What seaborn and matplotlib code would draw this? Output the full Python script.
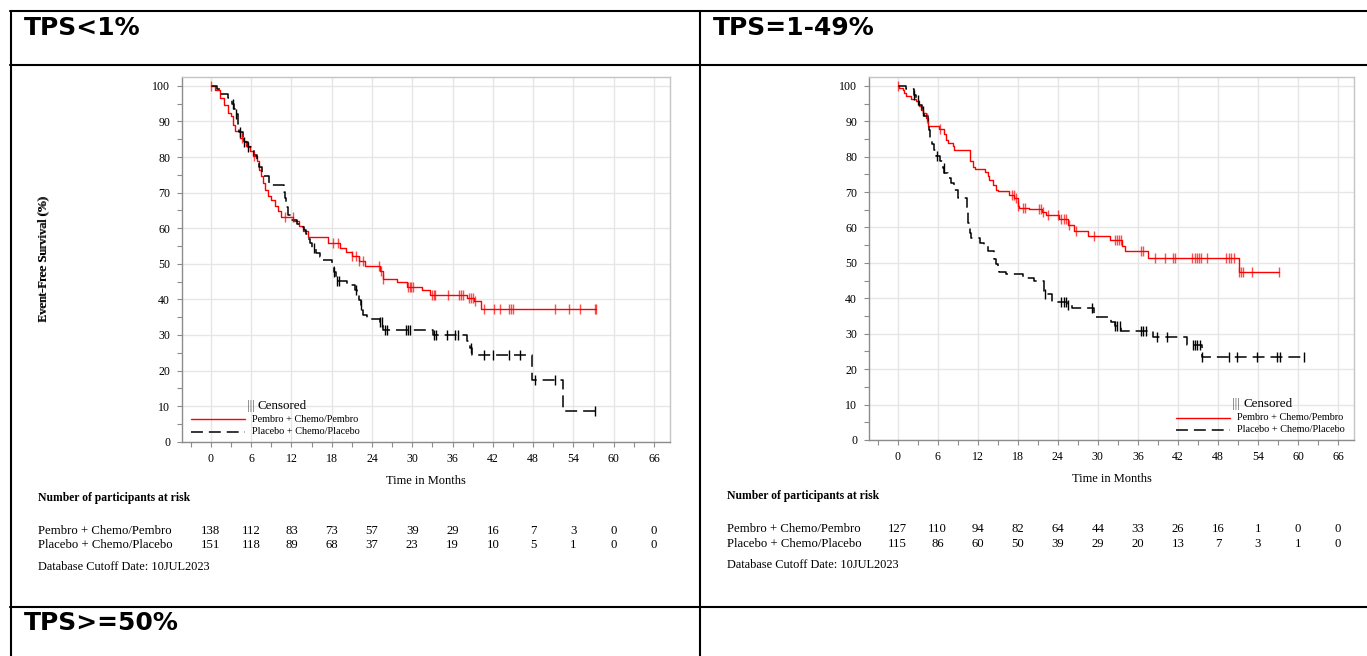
import numpy as np
import pandas as pd
import matplotlib
matplotlib.use("Agg")
import matplotlib.pyplot as plt
from matplotlib.lines import Line2D
from matplotlib.ticker import MultipleLocator
from matplotlib.transforms import blended_transform_factory
import seaborn as sns

# ----------------------------- data -----------------------------
panel_titles = ["TPS<1%", "TPS=1-49%", "TPS>=50%"]
arm_labels = ["Pembro + Chemo/Pembro", "Placebo + Chemo/Placebo"]
month_ticks = [0, 6, 12, 18, 24, 30, 36, 42, 48, 54, 60, 66]
surv_ticks = [0, 10, 20, 30, 40, 50, 60, 70, 80, 90, 100]
x_label = "Time in Months"
y_label = "Event-Free Survival (%)"
risk_header = "Number of participants at risk"
cutoff_note = "Database Cutoff Date: 10JUL2023"
censor_label = "Censored"

# ---- TPS<1% ----
low_pem_time = [0, 0.6, 1.3, 1.9, 2.5, 3.0, 3.3, 3.6, 4.3, 4.8,
                5.3, 5.8, 6.3, 6.8, 7.2, 7.5, 7.8, 8.1, 8.5, 9.0,
                9.6, 10.0, 10.5, 12.3, 13.1, 13.8, 14.4, 17.4, 19.2, 20.1,
                21.1, 22.0, 22.9, 25.2, 25.7, 27.7, 29.2, 31.5, 32.7, 38.2,
                39.2, 40.2]
low_pem_surv = [100, 98.9, 96.5, 94.7, 92.3, 91.4, 89.0, 87.2, 85.3, 84.4,
                83.0, 81.6, 80.2, 78.8, 76.4, 74.6, 72.7, 70.8, 69.0, 67.9,
                66.2, 64.8, 63.2, 62.0, 60.5, 59.2, 57.6, 55.9, 54.5, 53.4,
                52.1, 50.7, 49.3, 47.9, 45.6, 44.8, 43.5, 42.5, 41.2, 40.4,
                39.5, 37.3]
low_pem_cens = [0, 4.6, 6.5, 11.0, 12.2, 18.2, 18.9, 21.1, 21.6, 22.1, 22.6,
                25.0, 25.4, 25.7, 29.3, 29.6, 29.8, 30.1, 33.0, 33.2, 33.4,
                35.3, 36.9, 37.2, 37.5, 38.4, 38.7, 39.0, 39.3, 40.7, 42.2,
                43.0, 44.4, 44.7, 45.0, 51.2, 53.3, 55.0, 57.2, 57.4]

low_plc_time = [0, 0.9, 1.4, 2.5, 3.2, 3.5, 3.8, 4.0, 4.2, 4.75,
                5.0, 5.5, 6.0, 6.4, 6.8, 7.1, 7.6, 8.6, 10.9, 11.05,
                11.2, 11.45, 11.9, 12.9, 13.3, 13.9, 14.2, 14.5, 14.7, 15.1,
                15.7, 16.3, 16.6, 18.0, 18.3, 18.6, 18.8, 20.3, 21.4, 21.7,
                22.0, 22.3, 22.5, 22.7, 23.2, 25.2, 25.7, 33.1, 38.1, 38.6,
                38.9, 47.8, 52.5]
low_plc_surv = [100, 99.1, 97.8, 96.6, 95.0, 93.6, 92.2, 89.4, 87.1, 85.7,
                84.3, 82.9, 81.9, 80.5, 79.1, 77.2, 74.8, 72.1, 70.2, 68.4,
                66.0, 63.7, 62.3, 61.1, 60.2, 59.6, 58.5, 57.1, 55.7, 54.3,
                52.9, 51.8, 51.0, 49.2, 47.8, 46.3, 45.1, 44.0, 42.6, 41.2,
                39.8, 38.4, 37.0, 35.6, 34.5, 33.5, 31.5, 30.0, 28.2, 26.4,
                24.3, 17.3, 8.6]
low_plc_cens = [3.3, 3.8, 4.4, 5.0, 5.5, 15.4, 18.3, 18.8, 19.1, 21.6, 22.3,
                25.2, 25.5, 25.9, 26.2, 29.1, 29.4, 29.7, 33.2, 33.5, 35.2,
                36.4, 36.8, 38.8, 40.7, 42.0, 44.4, 46.0, 48.3, 51.2, 57.2]

low_pem_risk = [138, 112, 83, 73, 57, 39, 29, 16, 7, 3, 0, 0]
low_plc_risk = [151, 118, 89, 68, 37, 23, 19, 10, 5, 1, 0, 0]

# ---- TPS=1-49% ----
mid_pem_time = [0, 0.25, 0.75, 1.0, 1.25, 2.0, 2.75, 3.25, 3.5, 3.75,
                4.25, 4.5, 6.25, 7.0, 7.25, 7.5, 8.25, 8.5, 10.9, 11.25,
                11.6, 13.15, 13.5, 13.75, 14.25, 14.75, 15.0, 16.65, 17.5, 18.0,
                18.25, 19.65, 21.65, 22.25, 24.15, 25.6, 26.5, 28.6, 31.8, 33.6,
                34.0, 37.5, 51.2]
mid_pem_surv = [100, 99.3, 98.9, 98.1, 97.2, 96.2, 95.6, 94.2, 93.2, 92.3,
                90.9, 88.7, 87.8, 86.5, 84.8, 83.9, 82.9, 81.8, 78.7, 77.1,
                76.5, 75.6, 74.5, 73.5, 72.1, 70.7, 70.3, 69.3, 68.4, 66.0,
                65.6, 65.1, 64.4, 63.4, 62.3, 60.6, 59.0, 57.7, 56.4, 54.9,
                53.3, 51.4, 47.5]
mid_pem_cens = [0, 4.4, 6.3, 17.1, 17.4, 17.8, 18.1, 18.8, 19.1, 21.2, 21.5,
                21.8, 22.6, 24.0, 24.5, 24.9, 25.3, 25.7, 26.8, 29.4, 32.5,
                32.8, 33.1, 33.4, 36.5, 36.8, 38.6, 40.0, 41.2, 41.5, 44.1,
                44.6, 44.9, 45.1, 45.4, 46.3, 49.2, 49.6, 50.0, 50.4, 51.2,
                51.5, 51.8, 53.1, 57.1]

mid_plc_time = [0, 1.3, 2.4, 2.8, 3.2, 3.6, 4.0, 4.5, 4.7, 4.9,
                5.2, 5.5, 5.8, 6.3, 6.8, 7.0, 7.5, 8.0, 8.5, 9.0,
                10.4, 10.6, 10.8, 11.0, 12.3, 13.0, 13.5, 14.5, 14.75, 15.0,
                15.25, 16.2, 18.8, 20.5, 22.0, 23.1, 25.4, 26.2, 29.4, 32.0,
                32.6, 33.4, 38.3, 43.4, 45.6]
mid_plc_surv = [100, 99.1, 97.5, 96.1, 94.5, 93.0, 91.5, 90.0, 87.5, 85.3,
                83.5, 82.0, 80.1, 78.7, 76.8, 75.4, 74.0, 72.6, 70.5, 68.4,
                65.0, 61.4, 58.5, 56.9, 55.5, 54.8, 53.4, 51.0, 49.6, 48.2,
                47.5, 46.8, 45.6, 44.9, 41.2, 39.0, 38.1, 37.2, 34.8, 33.4,
                32.1, 30.8, 29.2, 26.8, 23.3]
mid_plc_cens = [2.5, 3.0, 3.8, 5.9, 6.9, 22.1, 24.5, 25.0, 25.3, 25.6, 29.2,
                32.6, 32.9, 33.3, 36.5, 36.8, 37.2, 38.8, 40.4, 44.3, 44.6,
                44.9, 45.3, 45.6, 49.7, 50.9, 53.9, 56.8, 57.3, 60.9]

mid_pem_risk = [127, 110, 94, 82, 64, 44, 33, 26, 16, 1, 0, 0]
mid_plc_risk = [115, 86, 60, 50, 39, 29, 20, 13, 7, 3, 1, 0]

# ----------------------------- style -----------------------------
W, H = 1367, 656
sns.set_theme(style="white")
plt.rcParams["font.family"] = ["Liberation Serif", "DejaVu Serif"]
plt.rcParams["axes.unicode_minus"] = False
plt.rcParams["text.color"] = "black"
plt.rcParams["axes.labelcolor"] = "black"
plt.rcParams["xtick.color"] = "black"
plt.rcParams["ytick.color"] = "black"
plt.rcParams["axes.labelweight"] = "normal"

PEM_COLOR = "#ff0000"
PLC_COLOR = "#000000"
PLC_DASH = (7.8, 3.9)
SERIF = ["Liberation Serif", "DejaVu Serif"]

fig = plt.figure(figsize=(W / 100, H / 100), dpi=100)
fig.patch.set_facecolor("white")


def fx(px):
    return px / W


def fy(py):
    return 1 - py / H


def step_frame(times, surv, cens, arm):
    end = max(max(cens), times[-1])
    return pd.DataFrame({"month": list(times) + [end],
                         "surv": list(surv) + [surv[-1]],
                         "arm": arm})


def surv_at(times, surv, x):
    idx = np.searchsorted(np.asarray(times), np.asarray(x), side="right") - 1
    return np.asarray(surv)[idx]


def draw_panel(box, pem, plc, pem_risk, plc_risk, text_x, rows_y, legend):
    left, top, right, bottom = box
    ax = fig.add_axes([fx(left), fy(bottom), fx(right) - fx(left), fy(top) - fy(bottom)])
    ax.set_facecolor("white")

    arms = [(pem, PEM_COLOR, arm_labels[0], 0.7), (plc, PLC_COLOR, arm_labels[1], 1.0)]
    for (t, s, c), color, name, calpha in arms:
        df = step_frame(t, s, c, name)
        sns.lineplot(data=df, x="month", y="surv", ax=ax, color=color,
                     lw=1.0 if color == PEM_COLOR else 1.1,
                     drawstyle="steps-post", estimator=None, sort=False,
                     legend=False, zorder=3)
        if color == PLC_COLOR:
            ax.lines[-1].set_dashes(PLC_DASH)
        cy = surv_at(t, s, c)
        ax.plot(c, cy, ls="none", marker="|", ms=7.5, mew=1.0,
                color=color, alpha=calpha, zorder=4)

    ax.set_xlim(-4.3, 68.4)
    ax.set_ylim(0, 102.4)
    ax.set_xticks(month_ticks)
    ax.set_yticks(surv_ticks)
    ax.xaxis.set_minor_locator(MultipleLocator(3))
    ax.yaxis.set_minor_locator(MultipleLocator(5))
    ax.grid(True, which="major", color="#e6e6e6", lw=1.0)
    ax.set_axisbelow(True)
    ax.tick_params(which="both", direction="out", length=3.6, width=0.8,
                   color="#8c8c8c", labelsize=8.6, labelcolor="black",
                   bottom=True, left=True, top=False, right=False)
    ax.tick_params(axis="x", which="major", pad=4.5)
    ax.tick_params(axis="y", which="major", pad=5)
    for sp in ["left", "bottom"]:
        ax.spines[sp].set_color("#8c8c8c")
        ax.spines[sp].set_linewidth(1.0)
    for sp in ["top", "right"]:
        ax.spines[sp].set_color("#c4c4c4")
        ax.spines[sp].set_linewidth(1.0)

    ax.set_xlabel(x_label, fontsize=9, family=SERIF, fontweight="normal", color="black")
    ax.set_ylabel(y_label, fontsize=9.2, family=SERIF, fontweight="normal", color="black")
    ax.xaxis.set_label_coords(0.5, -0.108)
    ax.xaxis.label.set_va("center")
    ax.yaxis.set_label_coords((43 - left) / (right - left), 0.5)
    ax.yaxis.label.set_va("center")
    ax.yaxis.label.set_ha("center")

    # risk table
    hdr_y, r1_y, r2_y, note_y = rows_y
    fig.text(fx(text_x), fy(hdr_y), risk_header, fontsize=8.4, weight="bold",
             family=SERIF, va="center", ha="left")
    fig.text(fx(text_x), fy(r1_y), arm_labels[0], fontsize=9.2, family=SERIF,
             va="center", ha="left")
    fig.text(fx(text_x), fy(r2_y), arm_labels[1], fontsize=9.2, family=SERIF,
             va="center", ha="left")
    fig.text(fx(text_x), fy(note_y), cutoff_note, fontsize=8.9, family=SERIF,
             va="center", ha="left")
    trans = blended_transform_factory(ax.transData, fig.transFigure)
    for m, a, b in zip(month_ticks, pem_risk, plc_risk):
        ax.text(m, fy(r1_y), str(a), transform=trans, fontsize=9.2,
                family=SERIF, ha="center", va="center", clip_on=False)
        ax.text(m, fy(r2_y), str(b), transform=trans, fontsize=9.2,
                family=SERIF, ha="center", va="center", clip_on=False)

    # legend (keys drawn in figure space)
    cens_y, bar_x, cens_x, l1_y, l2_y, k0, k1, lab_x = legend
    fig.text(fx(bar_x), fy(cens_y), "|||", fontsize=9.4, family=SERIF,
             color="#555555", va="center", ha="left")
    fig.text(fx(cens_x), fy(cens_y), censor_label, fontsize=9.4, family=SERIF,
             va="center", ha="left")
    fig.add_artist(Line2D([fx(k0), fx(k1)], [fy(l1_y), fy(l1_y)],
                          color=PEM_COLOR, lw=1.0))
    fig.add_artist(Line2D([fx(k0), fx(k1)], [fy(l2_y), fy(l2_y)],
                          color=PLC_COLOR, lw=1.1, dashes=PLC_DASH))
    fig.text(fx(lab_x), fy(l1_y), arm_labels[0], fontsize=7.4, family=SERIF,
             va="center", ha="left")
    fig.text(fx(lab_x), fy(l2_y), arm_labels[1], fontsize=7.4, family=SERIF,
             va="center", ha="left")
    return ax


draw_panel((182, 77.3, 670, 441.7),
           (low_pem_time, low_pem_surv, low_pem_cens),
           (low_plc_time, low_plc_surv, low_plc_cens),
           low_pem_risk, low_plc_risk, 38, (497.5, 531, 545.5, 566.5),
           (405.7, 247, 258, 419.3, 431.7, 191, 245, 252))

draw_panel((869, 77.3, 1354, 440),
           (mid_pem_time, mid_pem_surv, mid_pem_cens),
           (mid_plc_time, mid_plc_surv, mid_plc_cens),
           mid_pem_risk, mid_plc_risk, 727, (495.5, 529.5, 544, 564.5),
           (404, 1232, 1243, 417.7, 430, 1176, 1230, 1237))

# table frame
frame_lw = 1.5
for yy in [11, 65, 607]:
    fig.add_artist(Line2D([fx(10), fx(1367)], [fy(yy), fy(yy)], color="black", lw=frame_lw))
for xx in [10.5, 700]:
    fig.add_artist(Line2D([fx(xx), fx(xx)], [fy(11), fy(656)], color="black", lw=frame_lw))

# panel titles
title_font = dict(family=["DejaVu Sans"], weight="bold", fontsize=18, va="baseline",
                  ha="left", color="black")
fig.text(fx(24), fy(35), panel_titles[0], **title_font)
fig.text(fx(713), fy(35), panel_titles[1], **title_font)
fig.text(fx(24), fy(630), panel_titles[2], **title_font)

fig.savefig("out.png", dpi=100, facecolor="white")
